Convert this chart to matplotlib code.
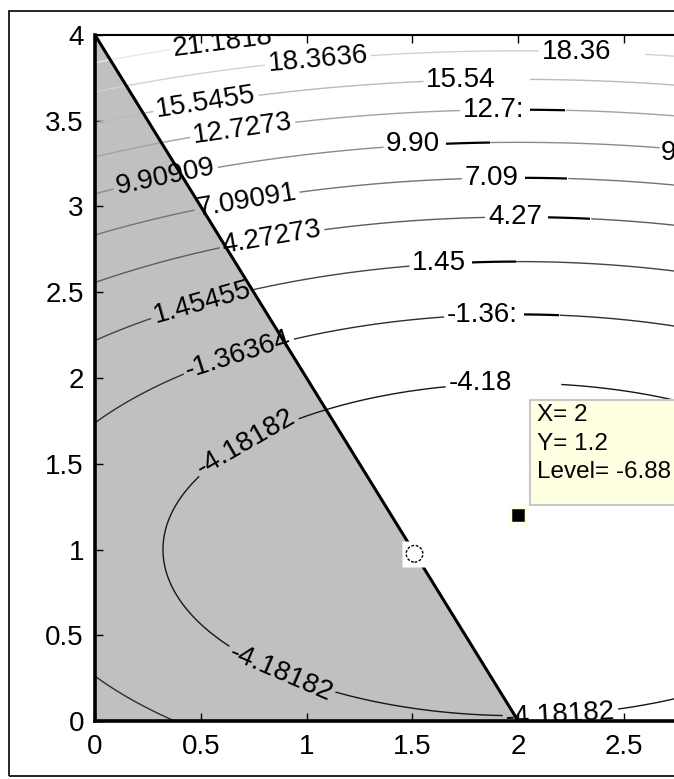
import numpy as np
import matplotlib
matplotlib.use("Agg")
import matplotlib.pyplot as plt
from matplotlib.patches import Polygon, Rectangle

plt.rcParams['font.family'] = ['Liberation Sans', 'DejaVu Sans']

# ---- data -------------------------------------------------------------
# objective f(x, y) = (x - center_x)^2 + weight_y * (y - center_y)^2 + offset
center_x = 2.0
center_y = 1.0
weight_y = 3.0
offset = -7.0
x_range = (0.0, 3.0)
y_range = (0.0, 4.0)
grid_n = (301, 401)

levels = [-4.18182, -1.36364, 1.45455, 4.27273, 7.09091, 9.90909,
          12.7273, 15.5455, 18.3636, 21.1818]
level_range = (-7.0, 24.0)

feasible_region = [(0, 0), (0, 4), (2, 0)]
constraint_line_x = [0, 2]
constraint_line_y = [4, 0]

optimum_point = (1.51, 0.975)
tip_point = (2.0, 1.2)
tip_text = "X= 2\nY= 1.2\nLevel= -6.88"

# labels inside shaded region (full text, rotated along contour)
left_label_pos = [(0.605, 3.95), (1.054, 3.837), (0.525, 3.60), (0.70, 3.43),
                  (0.336, 3.15), (0.72, 3.02), (0.837, 2.81), (0.51, 2.42),
                  (0.685, 2.105), (0.733, 1.58), (0.87, 0.257), (2.2, 0.04)]
# labels in the right region (shown truncated, horizontal)
right_label_pos = [(2.349, 3.89), (1.805, 3.714), (1.975, 3.563), (1.616, 3.347),
                   (1.985, 3.166), (2.094, 2.915), (1.739, 2.641), (1.923, 2.35),
                   (1.93, 1.97), (2.92, 3.33)]
right_label_text = ["18.36", "15.54", "12.7:", "9.90", "7.09", "4.27", "1.45",
                    "-1.36:", "-4.18", "9.90"]
right_label_dark = [False, False, True, True, True, True, True, True, False, False]

xticks = [0, 0.5, 1, 1.5, 2, 2.5]
yticks = [0, 0.5, 1, 1.5, 2, 2.5, 3, 3.5, 4]
xtick_labels = ["0", "0.5", "1", "1.5", "2", "2.5"]
ytick_labels = ["0", "0.5", "1", "1.5", "2", "2.5", "3", "3.5", "4"]

# ---- figure -----------------------------------------------------------
W, H = 674, 779
fig = plt.figure(figsize=(W / 100, H / 100), dpi=100)
ax = fig.add_axes([95 / W, 58 / H, 634.8 / W, 686 / H])
ax.set_xlim(*x_range)
ax.set_ylim(*y_range)

# figure frame
fig.patches.append(Rectangle((9 / W, 3 / H), 2.0, (776 - 11) / H, transform=fig.transFigure,
                             fill=False, edgecolor='black', linewidth=1.2, zorder=0))

# shaded feasible region
ax.add_patch(Polygon(feasible_region, closed=True, facecolor='#c0c0c0',
                     edgecolor='none', zorder=1))

xg = np.linspace(*x_range, grid_n[0])
yg = np.linspace(*y_range, grid_n[1])
X, Y = np.meshgrid(xg, yg)
Z = (X - center_x) ** 2 + weight_y * (Y - center_y) ** 2 + offset

cs = ax.contour(X, Y, Z, levels=levels, cmap='gray', vmin=level_range[0],
                vmax=level_range[1], linewidths=1.0, zorder=2)

fmt_full = {lv: ('%.6g' % lv) for lv in cs.levels}
ax.clabel(cs, fmt=fmt_full, manual=left_label_pos, inline=True, fontsize=20,
          colors='k', inline_spacing=3)
n_left = len(cs.labelTexts)
ax.clabel(cs, fmt=fmt_full, manual=right_label_pos, inline=True, fontsize=20,
          colors='k', inline_spacing=3)

fig.canvas.draw()
renderer = fig.canvas.get_renderer()
inv = ax.transData.inverted()
for t in cs.labelTexts:
    t.set_clip_on(True)
    t.set_zorder(4)

for i, t in enumerate(cs.labelTexts[n_left:]):
    ext = t.get_window_extent(renderer)
    level_val = float(t.get_text())
    x0, ymid = inv.transform((ext.x0, (ext.y0 + ext.y1) / 2))
    t.set_text(right_label_text[i])
    t.set_rotation(0)
    t.set_ha('left')
    t.set_va('center')
    t.set_position((x0, ymid))
    if right_label_dark[i]:
        text_ext = t.get_window_extent(renderer)
        xa, ya = inv.transform((text_ext.x1 + 6, ext.y0 - 4))
        xb, yb = inv.transform((ext.x1 + 2, ext.y1 + 4))
        dark = ax.contour(X, Y, Z, levels=[level_val], colors='k',
                          linestyles='solid', linewidths=1.6, zorder=3)
        clip = Rectangle((xa, ya), xb - xa, yb - ya, transform=ax.transData,
                         facecolor='none', edgecolor='none')
        ax.add_patch(clip)
        dark.set_clip_path(clip)

# constraint line
ax.plot(constraint_line_x, constraint_line_y, color='black', linewidth=2.2,
        zorder=5, solid_capstyle='butt')

# optimum marker
ax.plot([optimum_point[0]], [optimum_point[1]], marker='s', markersize=18.5,
        markerfacecolor='white', markeredgecolor='none', linestyle='none', zorder=6)
ax.scatter([optimum_point[0]], [optimum_point[1]], s=12 ** 2, facecolors='white',
           edgecolors='black', linewidths=1.0, linestyle=(0, (2, 1.2)), zorder=7)

# data tip
ax.plot([tip_point[0]], [tip_point[1]], marker='s', markersize=12,
        markerfacecolor='black', markeredgecolor='#ffffe1', markeredgewidth=2.5,
        linestyle='none', zorder=8)
ax.add_patch(Rectangle((2.056, 1.259), 1.2, 0.613, transform=ax.transData,
                       facecolor='#ffffe1', edgecolor='#c8c8c8', linewidth=1.5,
                       zorder=8.5, clip_on=False))
ax.text(2.089, 1.85, tip_text, ha='left', va='top', fontsize=17.5, linespacing=1.4,
        zorder=9)

# axes styling
ax.set_xticks(xticks)
ax.set_xticklabels(xtick_labels)
ax.set_yticks(yticks)
ax.set_yticklabels(ytick_labels)
ax.tick_params(direction='in', length=6, width=1, labelsize=20, top=True,
               right=False, colors='black')
ax.tick_params(axis='x', pad=9)
ax.tick_params(axis='y', pad=8)
ax.spines['left'].set_linewidth(2.6)
ax.spines['bottom'].set_linewidth(2.6)
ax.spines['top'].set_linewidth(1.5)
ax.spines['right'].set_visible(False)
for s in ax.spines.values():
    s.set_zorder(10)

fig.savefig('out.png', dpi=100)
